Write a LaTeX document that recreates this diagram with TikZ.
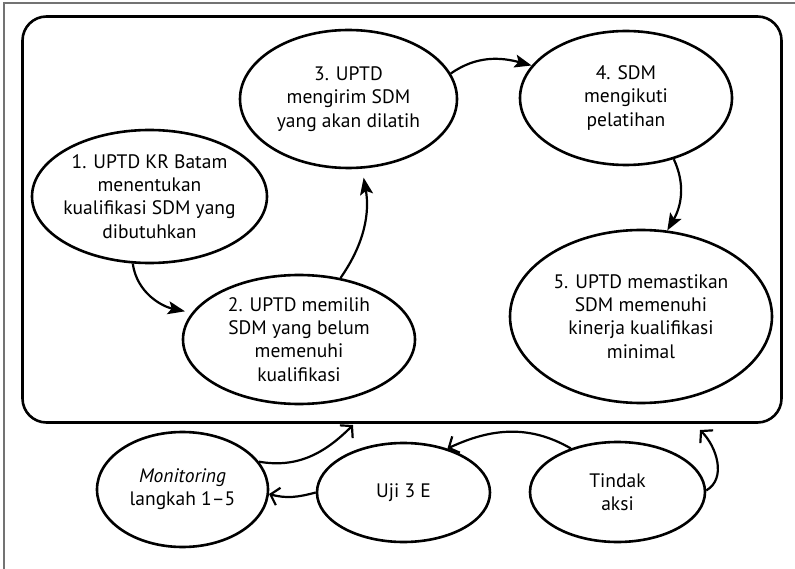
\documentclass[tikz,border=0pt]{standalone}
\usepackage{fontspec}
\setmainfont{PT Sans}
\usetikzlibrary{shapes.geometric,arrows.meta}
\begin{document}
\begin{tikzpicture}[x=1pt,y=-1pt,
  every node/.style={font=\fontsize{19.5}{23.3}\selectfont},
  oval/.style={draw, ellipse, line width=2.6pt, inner sep=-14pt, align=center},
  flow/.style={line width=2.2pt, -{Stealth[length=17pt,width=13pt,inset=3.5pt]}},
  back/.style={line width=2.2pt, -{Straight Barb[length=8pt,width=18pt]}}]
\useasboundingbox (0,0) rectangle (795,569);
% thin grey frame along the top and left
\draw[line width=1.8pt, black!55] (4,569) -- (4,3) -- (795,3);
% rounded panel holding steps 1-5
\node[draw, line width=2.6pt, rounded corners=24pt, minimum width=759pt, minimum height=406pt] (panel) at (402,219.5) {};
% steps
\node[oval, minimum width=235pt, minimum height=133pt] (s1) at (149.5,196.5)
  {1. UPTD KR Batam\\menentukan\\kualifikasi SDM yang\\dibutuhkan};
\node[oval, minimum width=232pt, minimum height=129pt] (s2) at (299,339.5)
  {2. UPTD memilih\\SDM yang belum\\memenuhi\\kualifikasi};
\node[oval, minimum width=217pt, minimum height=138pt] (s3) at (348.5,99)
  {3. UPTD\\mengirim SDM\\yang akan dilatih};
\node[oval, minimum width=212pt, minimum height=134pt] (s4) at (626,98)
  {4. SDM\\mengikuti\\pelatihan};
\node[oval, minimum width=262pt, minimum height=173pt] (s5) at (641,316.5)
  {5. UPTD memastikan\\SDM memenuhi\\kinerja kualifikasi\\minimal};
% monitoring cycle
\node[oval, minimum width=171pt, minimum height=115pt] (mon) at (182.5,489.5)
  {\textit{Monitoring}\\langkah 1--5};
\node[oval, minimum width=173pt, minimum height=99pt] (uji) at (403.5,492.5) {Uji 3 E};
\node[oval, minimum width=175pt, minimum height=100pt] (aksi) at (617.5,492) {Tindak\\aksi};
\coordinate (pin1) at (353,425);
\coordinate (pin2) at (700,430);
% step arrows
\draw[flow, shorten >=7pt] (s1.256.8) to[out=-82, in=168] (s2.166.4);
\draw[flow, shorten >=9pt] (s2.56.5) to[out=55, in=-80] (s3.281.9);
\draw[flow] (s3.14.2) to[out=35, in=165] (s4.161.4);
\draw[flow] (s4.308.9) to[out=-65, in=60] (s5.73.3);
% monitoring arrows
\draw[back] (mon.20) to[out=-10, in=225] (pin1);
\draw[back] (uji.180) to[out=195, in=-15] (mon.357.7);
\draw[back] (aksi.137.3) to[out=150, in=25] (uji.45.6);
\draw[back] (aksi.1.3) to[out=30, in=-45] (pin2);
\end{tikzpicture}
\end{document}
